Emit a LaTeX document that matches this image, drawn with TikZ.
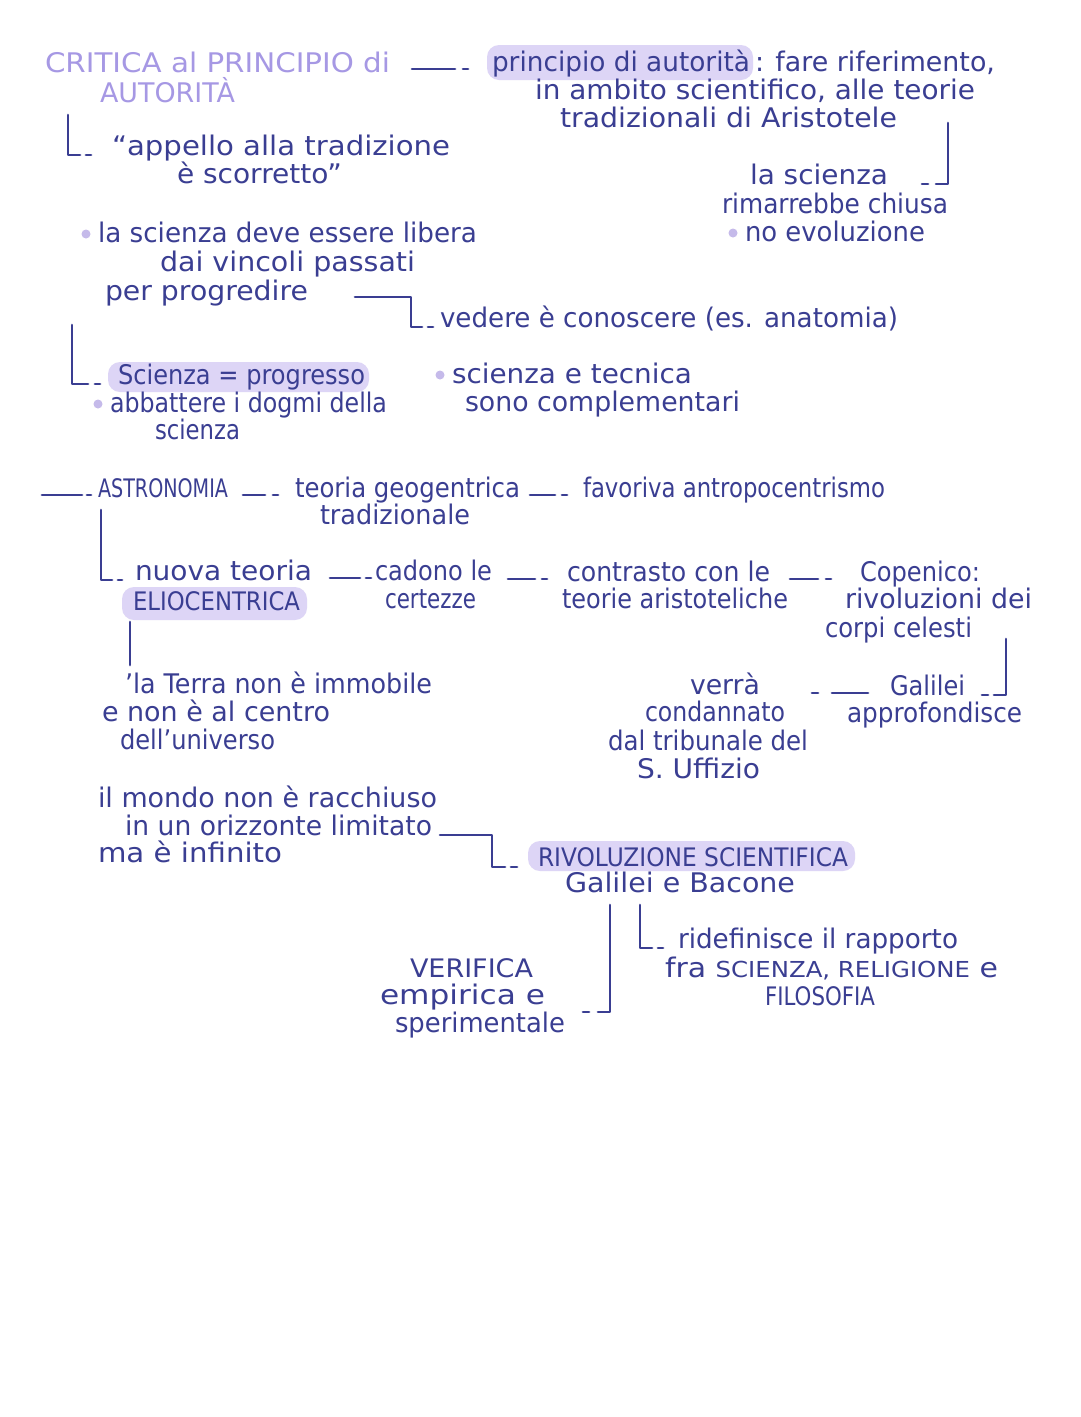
\documentclass[tikz,border=0pt]{standalone}
\usepackage{fontspec}
\setmainfont{DejaVu Sans}
\usepackage{graphicx}
\usetikzlibrary{backgrounds,calc}
\definecolor{ink}{RGB}{58,62,146}
\definecolor{titlec}{RGB}{166,152,228}
\definecolor{hlc}{RGB}{221,213,246}
\definecolor{dotc}{RGB}{197,186,234}
\newcommand\fw[2]{\resizebox{#1pt}{\height}{#2}}
\newcommand\capsize{\fontsize{25.5}{30}\selectfont}
\newcommand\smcaps{\fontsize{22}{26}\selectfont}
\newcommand\lnk[5]{\draw[ln] ($(#1.base east |- #2.base west)+(#3pt,2pt)$) -- ($(#2.base west)+(-#4pt,2pt)$) ($(#2.base west)+(-#5pt,2pt)$) -- ++(5pt,0pt);}
\begin{document}
\begin{tikzpicture}[x=1pt,y=-1pt,
 tx/.style={anchor=base west,inner sep=0pt,outer sep=0pt,text=ink,font=\fontsize{27}{32}\selectfont},
 captx/.style={tx,font=\capsize},
 ttl/.style={tx,text=titlec,font=\fontsize{27}{32}\selectfont},
 ln/.style={draw=ink,line width=2.7pt,line cap=round,line join=round},
 hl/.style={fill=hlc,rounded corners=12pt},
 bul/.style={fill=dotc}]
\useasboundingbox (0,0) rectangle (1080,1417);

% ---------- texts ----------
\node[ttl] (t1) at (45,72) {\fw{345}{CRITICA al PRINCIPIO di}};
\node[ttl] (t2) at (100,102) {\fw{135}{AUTORITÀ}};
\node[tx] (p1a) at (492,71) {\fw{258}{principio di autorità}};
\node[tx] (p1b) at (755,71) {\fw{240}{: fare riferimento,}};
\node[tx] (p2) at (535,99) {\fw{440}{in ambito scientifico, alle teorie}};
\node[tx] (p3) at (560,127) {\fw{337}{tradizionali di Aristotele}};
\node[tx] (s1) at (750,184) {\fw{138}{la scienza}};
\node[tx] (s2) at (722,213) {\fw{226}{rimarrebbe chiusa}};
\node[tx] (s3) at (745,241) {\fw{180}{no evoluzione}};
\node[tx] (a1) at (112,155) {\fw{338}{``appello alla tradizione}};
\node[tx] (a2) at (177,183) {\fw{165}{è scorretto''}};
\node[tx] (b1) at (98,242) {\fw{379}{la scienza deve essere libera}};
\node[tx] (b2) at (160,271) {\fw{255}{dai vincoli passati}};
\node[tx] (b3) at (105,300) {\fw{203}{per progredire}};
\node[tx] (v1) at (440,327) {\fw{458}{vedere è conoscere (es. anatomia)}};
\node[tx] (sp) at (118,384) {\fw{247}{Scienza = progresso}};
\node[tx] (d1) at (110,412) {\fw{277}{abbattere i dogmi della}};
\node[tx] (d2) at (155,439) {\fw{85}{scienza}};
\node[tx] (e1) at (452,383) {\fw{240}{scienza e tecnica}};
\node[tx] (e2) at (465,411) {\fw{275}{sono complementari}};
\node[captx] (as) at (98,497) {\fw{130}{ASTRONOMIA}};
\node[tx] (g1) at (295,497) {\fw{225}{teoria geogentrica}};
\node[tx] (g2) at (320,524) {\fw{150}{tradizionale}};
\node[tx] (f1) at (583,497) {\fw{302}{favoriva antropocentrismo}};
\node[tx] (n1) at (135,580) {\fw{177}{nuova teoria}};
\node[captx] (el) at (133,610) {\fw{167}{ELIOCENTRICA}};
\node[tx] (c1) at (375,580) {\fw{117}{cadono le}};
\node[tx] (c2) at (385,608) {\fw{91}{certezze}};
\node[tx] (k1) at (567,581) {\fw{203}{contrasto con le}};
\node[tx] (k2) at (562,608) {\fw{226}{teorie aristoteliche}};
\node[tx] (cp1) at (860,581) {\fw{120}{Copenico:}};
\node[tx] (cp2) at (845,608) {\fw{187}{rivoluzioni dei}};
\node[tx] (cp3) at (825,637) {\fw{147}{corpi celesti}};
\node[tx] (ga1) at (890,695) {\fw{75}{Galilei}};
\node[tx] (ga2) at (847,722) {\fw{175}{approfondisce}};
\node[tx] (ve1) at (690,694) {\fw{70}{verrà}};
\node[tx] (ve2) at (645,721) {\fw{140}{condannato}};
\node[tx] (ve3) at (608,750) {\fw{200}{dal tribunale del}};
\node[tx] (ve4) at (637,778) {\fw{123}{S. Uffizio}};
\node[tx] (te1) at (125,693) {\fw{307}{'la Terra non è immobile}};
\node[tx] (te2) at (102,721) {\fw{228}{e non è al centro}};
\node[tx] (te3) at (120,749) {\fw{155}{dell'universo}};
\node[tx] (mo1) at (98,807) {\fw{339}{il mondo non è racchiuso}};
\node[tx] (mo2) at (125,835) {\fw{307}{in un orizzonte limitato}};
\node[tx] (mo3) at (98,862) {\fw{184}{ma è infinito}};
\node[captx] (rv) at (538,866) {\fw{310}{RIVOLUZIONE SCIENTIFICA}};
\node[tx] (rv2) at (565,892) {\fw{230}{Galilei e Bacone}};
\node[tx] (ri1) at (678,948) {\fw{280}{ridefinisce il rapporto}};
\node[tx] (ri2) at (665,977) {\fw{333}{fra {\smcaps SCIENZA, RELIGIONE} e}};
\node[captx] (ri3) at (765,1005) {\fw{110}{FILOSOFIA}};
\node[captx] (vf1) at (410,977) {\fw{123}{VERIFICA}};
\node[tx] (vf2) at (380,1004) {\fw{165}{empirica e}};
\node[tx] (vf3) at (395,1032) {\fw{170}{sperimentale}};

% ---------- background and highlights ----------
\begin{scope}[on background layer]
\fill[white] (0,0) rectangle (1080,1417);
\fill[hl] ($(p1a.base west)+(-5pt,26pt)$) rectangle ($(p1a.base east)+(3pt,-9pt)$);
\fill[hl] ($(sp.base west)+(-10pt,22pt)$) rectangle ($(sp.base east)+(4pt,-8pt)$);
\fill[hl] ($(el.base west)+(-11pt,23pt)$) rectangle ($(el.base east)+(7pt,-10pt)$);
\fill[hl] ($(rv.base west)+(-10pt,25pt)$) rectangle ($(rv.base east)+(7pt,-5pt)$);
\end{scope}

% ---------- bullets ----------
\foreach \n in {s3,b1,d1,e1}
  \fill[bul] ($(\n.base west)+(-12pt,8pt)$) circle (4.5pt);

% ---------- connectors ----------
\lnk{t1}{p1a}{22}{37}{29}
\lnk{as}{g1}{15}{30}{22}
\lnk{g1}{f1}{10}{28}{21}
\lnk{n1}{c1}{18}{15}{9}
\lnk{c1}{k1}{16}{32}{25}
\lnk{k1}{cp1}{20}{42}{34}

\coordinate (astart) at (42,495);
\draw[ln] (astart) -- ($(as.base west)+(-16pt,2pt)$)
          ($(as.base west)+(-11pt,2pt)$) -- ++(4pt,0pt);

% principio -> la scienza
\draw[ln] ($(p3.base east)+(51pt,4pt)$) |- ($(s1.base east)+(48pt,0pt)$);
\draw[ln] ($(s1.base east)+(34pt,0pt)$) -- ++(6pt,0pt);

% autorita -> appello
\draw[ln] ($(t2.base west)+(-32pt,-13pt)$) |- ($(a1.base west)+(-32pt,0pt)$);
\draw[ln] ($(a1.base west)+(-26pt,0pt)$) -- ++(5pt,0pt);

% per progredire -> vedere
\draw[ln] ($(b3.base east)+(47pt,3pt)$) -| ($(v1.base west)+(-29pt,0pt)$) -- ($(v1.base west)+(-18pt,0pt)$);
\draw[ln] ($(v1.base west)+(-12pt,0pt)$) -- ++(5pt,0pt);

% per progredire -> scienza = progresso
\draw[ln] ($(b3.base west)+(-33pt,-25pt)$) |- ($(sp.base west)+(-30pt,0pt)$);
\draw[ln] ($(sp.base west)+(-23pt,0pt)$) -- ++(5pt,0pt);

% astronomia -> nuova teoria
\draw[ln] ($(as.base west)+(3pt,-13pt)$) |- ($(n1.base west)+(-23pt,0pt)$);
\draw[ln] ($(n1.base west)+(-17pt,0pt)$) -- ++(4pt,0pt);

% copenico -> galilei
\draw[ln] ($(cp3.base east)+(34pt,-2pt)$) |- ($(ga1.base east)+(29pt,0pt)$);
\draw[ln] ($(ga1.base east)+(17pt,0pt)$) -- ++(6pt,0pt);

% galilei -> verra
\draw[ln] ($(ga1.base west)+(-22pt,2pt)$) -- ($(ve1.base east |- ga1.base west)+(72pt,2pt)$)
          ($(ve1.base east |- ga1.base west)+(52pt,2pt)$) -- ++(6pt,0pt);

% eliocentrica -> la Terra
\draw[ln] ($(el.base west)+(-3pt,-12pt)$) -- ($(te1.base west)+(5pt,28pt)$);

% limitato -> rivoluzione
\draw[ln] ($(mo2.base east)+(8pt,0pt)$) -| ($(rv.base west)+(-46pt,-1pt)$) -- ($(rv.base west)+(-33pt,-1pt)$);
\draw[ln] ($(rv.base west)+(-27pt,-1pt)$) -- ++(6pt,0pt);

% galilei e bacone -> ridefinisce
\draw[ln] ($(rv2.base west)+(75pt,-13pt)$) |- ($(ri1.base west)+(-26pt,0pt)$);
\draw[ln] ($(ri1.base west)+(-20pt,0pt)$) -- ++(5pt,0pt);

% galilei e bacone -> verifica
\draw[ln] ($(rv2.base west)+(45pt,-13pt)$) |- ($(vf2.base east)+(53pt,-8pt)$);
\draw[ln] ($(vf2.base east)+(38pt,-8pt)$) -- ++(6pt,0pt);
\end{tikzpicture}
\end{document}
